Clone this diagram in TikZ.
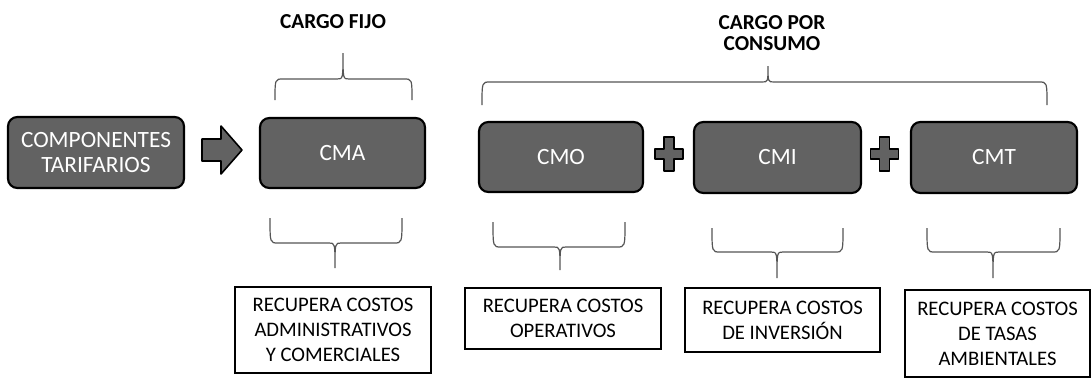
\documentclass[tikz,border=0pt]{standalone}
\usepackage{fontspec}
\setmainfont{Carlito}
\usepackage{tikz}
\usetikzlibrary{calc}
\definecolor{grisbox}{RGB}{98,98,98}
\definecolor{grislinea}{RGB}{85,85,85}
\tikzset{
	componente/.style={draw=black,line width=1.6pt,fill=grisbox,rounded corners=7pt,text=white,align=center,inner sep=0pt,font=\fontsize{17.5}{18.75}\selectfont},
	recupera/.style={draw=black,line width=1pt,fill=white,align=center,inner sep=0pt,font=\fontsize{15.5}{18.75}\selectfont},
	cargo/.style={align=center,font=\bfseries\fontsize{16}{15.75}\selectfont},
	llave/.style={draw=grislinea,line width=0.9pt},
	signo/.style={draw=black,line width=1.2pt,fill=grisbox,line join=round}
}
% x1, x2, xtip, yend, yflat, ytip
\newcommand{\dibujallave}[6]{%
	\draw[llave] (#1,#4) .. controls (#1,#5) .. (#1+8,#5) -- (#3-6,#5) .. controls (#3,#5) .. (#3,#6)
		.. controls (#3,#5) .. (#3+6,#5) -- (#2-8,#5) .. controls (#2,#5) .. (#2,#4);}

\begin{document}
\begin{tikzpicture}[x=0.75pt,y=-0.75pt]
	\fill[white] (0,0) rectangle (1092,379);
	\useasboundingbox (0,0) rectangle (1092,379);

	%top labels
	\node[cargo] (fijo)    at (333,22) {CARGO FIJO};
	\node[cargo] (consumo) at (772,33) {CARGO POR\\CONSUMO};

	%top braces
	\dibujallave{275}{412}{343}{100}{79}{53}
	\dibujallave{482}{1047}{768}{105}{82}{66}

	%components
	\node[componente,minimum width=176*0.75pt,minimum height=71*0.75pt] (comp) at (96,152.5) {COMPONENTES\\TARIFARIOS};
	\node[componente,minimum width=165*0.75pt,minimum height=70*0.75pt] (cma) at (342.5,153) {CMA};
	\node[componente,minimum width=164*0.75pt,minimum height=70*0.75pt] (cmo) at (561,157) {CMO};
	\node[componente,minimum width=167*0.75pt,minimum height=71*0.75pt] (cmi) at (777.5,157.5) {CMI};
	\node[componente,minimum width=166*0.75pt,minimum height=71*0.75pt] (cmt) at (994,157.5) {CMT};

	%arrow and plus signs
	\draw[signo] (202,139)--(221,139)--(221,126)--(242,150)--(221,174)--(221,161)--(202,161)--cycle;
	\foreach \px in {669,884.5}{
		\begin{scope}[shift={(\px,154)}]
			\draw[signo] (-5,-17)--(5,-17)--(5,-5)--(14,-5)--(14,5)--(5,5)--(5,17)--(-5,17)--(-5,5)--(-14,5)--(-14,-5)--(-5,-5)--cycle;
		\end{scope}
	}

	%bottom braces
	\dibujallave{270}{402}{335}{218}{243}{268}
	\dibujallave{493}{625}{560}{222}{247}{270}
	\dibujallave{712}{843}{777}{228}{252}{278}
	\dibujallave{927}{1060}{993}{228}{252}{278}

	%bottom labels
	\node[recupera,minimum width=196*0.75pt,minimum height=86*0.75pt] (reca) at (333,330)   {RECUPERA COSTOS\\ADMINISTRATIVOS\\Y COMERCIALES};
	\node[recupera,minimum width=196*0.75pt,minimum height=61*0.75pt] (reco) at (563,318.5) {RECUPERA COSTOS\\OPERATIVOS};
	\node[recupera,minimum width=195*0.75pt,minimum height=64*0.75pt] (reci) at (782.5,320) {RECUPERA COSTOS\\DE INVERSIÓN};
	\node[recupera,minimum width=185*0.75pt,minimum height=87*0.75pt] (rect) at (997.5,333.5) {RECUPERA COSTOS\\DE TASAS\\AMBIENTALES};
\end{tikzpicture}
\end{document}
